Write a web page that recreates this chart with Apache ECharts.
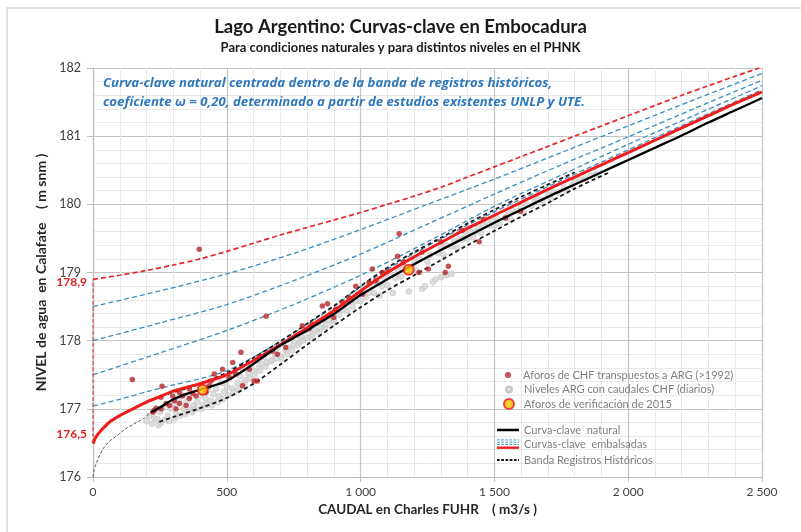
<!DOCTYPE html>
<html><head><meta charset="utf-8">
<script src="https://cdn.jsdelivr.net/npm/echarts@6.0.0/dist/echarts.min.js"></script>
<style>html,body{margin:0;padding:0;background:#fff}#c{width:801px;height:532px}</style>
</head><body><div id="c"></div>
<script>
// ---- data ----
const xTicks = [0, 500, 1000, 1500, 2000, 2500];
const yTicks = [176, 177, 178, 179, 180, 181, 182];
const yMarks = [176.5, 178.9];

const natural = [[217,176.95],[250,177.02],[300,177.14],[350,177.22],[400,177.28],[450,177.34],[500,177.41],[550,177.53],[600,177.66],[650,177.8],[700,177.93],[750,178.04],[800,178.15],[850,178.27],[900,178.39],[950,178.53],[1000,178.67],[1100,178.9],[1200,179.12],[1300,179.33],[1400,179.53],[1500,179.73],[1600,179.92],[1700,180.11],[1800,180.29],[1900,180.47],[2000,180.65],[2100,180.83],[2200,181.01],[2300,181.2],[2400,181.38],[2500,181.56]];
const naturalLow = [[0,176.0],[5,176.12],[13,176.21],[25,176.32],[37,176.41],[60,176.52],[87,176.6],[120,176.7],[149,176.77],[185,176.85],[217,176.95]];
const redSolid = [[0,176.49],[10,176.58],[25,176.66],[60,176.8],[100,176.9],[150,177.0],[200,177.1],[250,177.18],[300,177.26],[400,177.37],[500,177.5],[600,177.71],[700,177.94],[800,178.19],[900,178.44],[1000,178.73],[1100,179.0],[1200,179.23],[1300,179.44],[1400,179.65],[1500,179.84],[1600,180.03],[1700,180.22],[1800,180.4],[1900,180.58],[2000,180.76],[2100,180.94],[2200,181.12],[2300,181.3],[2400,181.48],[2500,181.65]];
const redVert = [[0,176.5],[0,178.9]];
const redDashed = [[0,178.9],[100,178.96],[200,179.03],[300,179.11],[400,179.2],[500,179.31],[600,179.43],[700,179.55],[800,179.66],[900,179.77],[1000,179.88],[1100,180.0],[1200,180.12],[1300,180.25],[1400,180.4],[1500,180.55],[1600,180.7],[1700,180.85],[1800,181.0],[1900,181.15],[2000,181.3],[2100,181.45],[2200,181.6],[2300,181.74],[2400,181.88],[2490,182.0]];
const blue1 = [[0,178.5],[250,178.73],[500,178.98],[750,179.28],[1000,179.63],[1250,180.0],[1500,180.37],[1750,180.76],[2000,181.15],[2250,181.54],[2500,181.92]];
const blue2 = [[0,178.0],[250,178.26],[500,178.53],[750,178.88],[1000,179.27],[1250,179.71],[1500,180.15],[1750,180.58],[2000,180.99],[2250,181.41],[2500,181.82]];
const blue3 = [[0,177.5],[250,177.82],[500,178.15],[750,178.53],[1000,178.96],[1250,179.45],[1500,179.97],[1750,180.43],[2000,180.88],[2250,181.31],[2500,181.74]];
const blue4 = [[0,177.04],[100,177.14],[200,177.25],[300,177.35],[400,177.44],[500,177.56],[600,177.76],[700,177.99],[800,178.24],[900,178.5],[1000,178.79],[1200,179.28],[1500,179.89],[2000,180.8],[2500,181.68]];
const bandLow = [[248,176.81],[300,176.88],[400,177.01],[500,177.16],[600,177.37],[700,177.65],[800,177.94],[900,178.22],[1000,178.49],[1100,178.74],[1200,178.96],[1300,179.18],[1400,179.4],[1500,179.61],[1600,179.82],[1700,180.02],[1800,180.23],[1930,180.47]];
const bandHigh = [[280,177.22],[350,177.3],[400,177.37],[500,177.53],[600,177.75],[700,177.99],[800,178.25],[900,178.51],[1000,178.8],[1100,179.07],[1200,179.3],[1300,179.51],[1400,179.72],[1500,179.92],[1600,180.11],[1700,180.29],[1800,180.47]];
const aforosCHF = [[147,177.43],[224,176.95],[236,177.01],[254,177.0],[229,176.98],[258,177.33],[254,177.17],[273,177.08],[286,177.05],[298,177.19],[304,177.12],[310,177.0],[323,177.08],[323,177.24],[335,177.19],[348,177.05],[360,177.15],[360,177.29],[372,177.23],[385,177.19],[397,179.34],[422,177.24],[434,177.34],[441,177.41],[453,177.51],[484,177.58],[509,177.46],[522,177.68],[534,177.51],[553,177.83],[559,177.34],[584,177.58],[602,177.41],[614,177.41],[621,177.76],[647,178.36],[671,177.85],[689,177.8],[720,177.9],[782,178.22],[807,178.17],[820,178.24],[857,178.51],[876,178.54],[900,178.34],[907,178.46],[932,178.56],[957,178.63],[982,178.8],[1007,178.68],[1032,178.85],[1044,179.05],[1057,178.88],[1081,179.0],[1100,179.02],[1138,179.24],[1144,179.57],[1160,179.15],[1218,179.0],[1230,179.3],[1253,179.05],[1300,179.45],[1316,179.0],[1328,179.09],[1380,179.62],[1443,179.45],[1460,179.78],[1542,179.8],[1598,179.9]];
const nivelesDiarios = [[200,176.82],[210,176.9],[220,176.78],[230,176.86],[240,176.85],[245,176.76],[250,176.95],[260,177.02],[255,176.8],[270,176.84],[280,176.9],[285,176.82],[290,177.0],[300,177.08],[305,176.86],[310,176.93],[320,177.12],[325,176.9],[340,177.0],[345,176.92],[350,177.1],[360,177.18],[365,176.98],[370,176.95],[375,177.05],[385,177.0],[390,177.1],[400,177.2],[405,177.0],[410,177.05],[420,177.15],[425,177.06],[430,177.28],[440,177.12],[445,177.05],[450,177.22],[460,177.3],[465,177.1],[470,177.18],[480,177.38],[485,177.14],[490,177.25],[500,177.33],[505,177.2],[510,177.45],[520,177.3],[525,177.24],[530,177.52],[540,177.38],[545,177.3],[550,177.48],[560,177.58],[565,177.38],[570,177.42],[580,177.52],[585,177.45],[590,177.62],[600,177.55],[605,177.5],[610,177.7],[620,177.6],[625,177.56],[630,177.66],[640,177.76],[645,177.62],[650,177.68],[660,177.84],[665,177.7],[670,177.72],[680,177.8],[685,177.74],[690,177.9],[700,177.78],[705,177.74],[710,177.96],[720,177.86],[725,177.8],[730,177.9],[740,178.02],[745,177.86],[750,177.94],[760,178.08],[765,177.94],[770,177.98],[780,178.05],[785,178.0],[790,178.14],[800,178.04],[810,178.2],[815,178.06],[820,178.1],[830,178.16],[840,178.26],[845,178.12],[850,178.18],[860,178.32],[865,178.2],[870,178.24],[880,178.3],[890,178.4],[895,178.26],[900,178.3],[910,178.46],[920,178.38],[930,178.45],[940,178.55],[950,178.44],[960,178.6],[970,178.5],[980,178.58],[990,178.68],[1000,178.58],[1010,178.74],[1020,178.64],[1030,178.7],[1040,178.8],[1050,178.7],[1060,178.86],[1070,178.66],[1080,178.8],[1090,178.92],[1100,178.82],[1110,178.98],[1120,178.7],[1130,178.92],[1140,179.04],[1150,178.94],[1160,179.1],[1180,178.72],[1190,179.05],[1200,179.15],[1210,179.02],[1220,179.2],[1230,178.76],[1240,178.8],[1250,179.16],[1260,179.26],[1270,178.86],[1280,178.9],[1300,178.93],[1320,178.96],[1340,178.98],[1290,179.28],[1300,179.36],[1310,179.26],[1320,179.4],[1340,179.38],[1350,179.46],[1360,179.36],[1370,179.5],[1380,179.48],[1390,179.56],[1400,179.5],[1410,179.6],[1420,179.52],[1430,179.6],[1440,179.66],[1450,179.58],[1460,179.7],[1480,179.7],[1490,179.76],[1500,179.68],[1510,179.8],[1520,179.72],[1540,179.8],[1550,179.86],[1560,179.78],[1570,179.9],[1590,179.9],[1600,179.96],[1610,179.88],[1620,180.0],[1640,179.98],[1650,180.04],[1660,180.08],[1680,180.06],[1700,180.14],[1710,180.08],[1720,180.18],[1740,180.18],[1760,180.25],[1770,180.2],[1790,180.28],[1800,180.33],[1820,180.36],[1840,180.38],[1860,180.42],[1880,180.44]];
const verificacion = [[410,177.28],[1180,179.04]];

// ---- names / texts ----
const titleText = 'Lago Argentino: Curvas-clave en Embocadura';
const subText = 'Para condiciones naturales y para distintos niveles en el PHNK';
const noteText = 'Curva-clave natural centrada dentro de la banda de registros históricos,\ncoeficiente \u03c9 = 0,20, determinado a partir de estudios existentes UNLP y UTE.';
const nAforos = 'Aforos de CHF transpuestos a ARG (>1992)';
const nNiveles = 'Niveles ARG con caudales CHF (diarios)';
const nVerif = 'Aforos de verificación de 2015';
const nNatural = 'Curva-clave  natural';
const nEmb = 'Curvas-clave  embalsadas';
const nBanda = 'Banda Registros Históricos';

const FONT = 'Lato, "Open Sans", sans-serif';
const BLUE = '#3b8dc2';
const RED = '#ee1c1c';

function svgIcon(body) {
  return 'image://data:image/svg+xml;charset=utf-8,' + encodeURIComponent(
    "<svg xmlns='http://www.w3.org/2000/svg' width='24' height='12'>" + body + "</svg>");
}
const embIcon = svgIcon("<g stroke='" + BLUE + "' stroke-width='1' stroke-dasharray='3,1.5'>" +
  "<line x1='0' y1='1' x2='24' y2='1'/><line x1='0' y1='3.5' x2='24' y2='3.5'/><line x1='0' y1='6' x2='24' y2='6'/></g>" +
  "<line x1='0' y1='9.5' x2='24' y2='9.5' stroke='" + RED + "' stroke-width='2.6'/>");
const natIcon = svgIcon("<line x1='0' y1='6' x2='24' y2='6' stroke='#000' stroke-width='2.6'/>");
const bandIcon = svgIcon("<line x1='0' y1='6' x2='24' y2='6' stroke='#1a1a1a' stroke-width='2' stroke-dasharray='3,1.6'/>");

const legendText = {fontFamily: FONT, fontSize: 11, color: '#7f7f7f', lineHeight: 14};
function lg(name, left, top, w, h, icon) {
  return {data: [icon ? {name: name, icon: icon} : name], left: left, top: top, itemWidth: w, itemHeight: h,
    padding: 0, selectedMode: false, textStyle: legendText, orient: 'vertical'};
}

function dashLine(name, data, color, width, dash, z) {
  return {name: name, type: 'line', data: data, symbol: 'none', smooth: 0.3, z: z, silent: true,
    lineStyle: {color: color, width: width, type: dash}, itemStyle: {color: color}};
}

const chart = echarts.init(document.getElementById('c'), null, {renderer: 'canvas'});
chart.setOption({
  animation: false,
  backgroundColor: '#fff',
  title: [
    {text: titleText, left: 'center', top: 18, padding: [0, 0, 0, 20],
      textStyle: {fontFamily: FONT, fontSize: 18.5, fontWeight: 'bold', color: '#1a1a1a'}},
    {text: subText, left: 'center', top: 41, padding: [0, 0, 0, 20],
      textStyle: {fontFamily: FONT, fontSize: 13, fontWeight: 'bold', color: '#1a1a1a'}}
  ],
  graphic: [
    {type: 'rect', z: -10, shape: {x: 7, y: 8, width: 1000, height: 1000},
      style: {fill: 'none', stroke: '#d6d6d6', lineWidth: 1.5}},
    {type: 'text', x: 103, y: 74, z: 10,
      style: {text: noteText, fill: '#2f78bd', font: 'italic bold 13.2px "Open Sans", sans-serif', lineHeight: 19}}
  ],
  legend: [
    lg(nAforos, 505, 368, 20, 6),
    lg(nNiveles, 505, 382.5, 20, 6),
    lg(nVerif, 503, 397, 20, 10),
    lg(nNatural, 497, 423, 22, 11, natIcon),
    lg(nEmb, 497, 437.5, 22, 11, embIcon),
    lg(nBanda, 497, 453, 22, 11, bandIcon)
  ],
  grid: {left: 93, right: 39, top: 68, bottom: 55},
  xAxis: {
    type: 'value', min: xTicks[0], max: xTicks[xTicks.length - 1], interval: 500,
    name: 'CAUDAL en Charles FUHR    ( m3/s )', nameLocation: 'middle', nameGap: 24,
    nameTextStyle: {fontFamily: FONT, fontSize: 13.5, fontWeight: 'bold', color: '#262626'},
    axisLine: {show: true, lineStyle: {color: '#bfbfbf', width: 1.2}},
    axisTick: {show: true, length: 5, lineStyle: {color: '#bfbfbf'}},
    minorTick: {show: false, splitNumber: 5},
    axisLabel: {fontFamily: FONT, fontSize: 12, color: '#404040', margin: 9,
      formatter: v => String(v).replace(/(\d)(\d{3})$/, '$1 $2')},
    splitLine: {show: true, lineStyle: {color: '#c4c4c4', width: 1.2}},
    minorSplitLine: {show: true, lineStyle: {color: '#e9e9e9', width: 1}}
  },
  yAxis: [{
    type: 'value', min: yTicks[0], max: yTicks[yTicks.length - 1], interval: 1,
    name: 'NIVEL de agua  en Calafate    ( m snm )', nameLocation: 'middle', nameGap: 42,
    nameTextStyle: {fontFamily: FONT, fontSize: 14, fontWeight: 'bold', color: '#262626'},
    axisLine: {show: true, lineStyle: {color: '#bfbfbf', width: 1.2}},
    axisTick: {show: true, length: 6, lineStyle: {color: '#bfbfbf'}},
    minorTick: {show: false, splitNumber: 5},
    axisLabel: {fontFamily: FONT, fontSize: 12.5, color: '#404040', margin: 12},
    splitLine: {show: true, lineStyle: {color: '#c4c4c4', width: 1.2}},
    minorSplitLine: {show: true, lineStyle: {color: '#e9e9e9', width: 1}}
  }, {
    type: 'value', min: yTicks[0], max: yTicks[yTicks.length - 1], position: 'left', offset: 0,
    axisLine: {show: false}, axisTick: {show: false}, splitLine: {show: false},
    axisLabel: {show: true, customValues: yMarks, margin: 6,
      formatter: v => v < 177 ? '{a|' + String(v).replace('.', ',') + '}' : '{b|' + String(v).replace('.', ',') + '}',
      rich: {
        a: {fontFamily: FONT, fontSize: 12, fontWeight: 'bold', color: '#e02020', padding: [0, 0, 18, 0]},
        b: {fontFamily: FONT, fontSize: 12, fontWeight: 'bold', color: '#e02020', padding: [6, 0, 0, 0]}
      }}
  }],
  series: [
    {name: nNiveles, type: 'scatter', data: nivelesDiarios, symbol: 'circle', symbolSize: 6, z: 1, silent: true,
      itemStyle: {color: '#d4d4d4', borderColor: '#bcbcbc', borderWidth: 0.5}},
    dashLine('emb1', blue1, BLUE, 1.3, [5, 3], 2),
    dashLine('emb2', blue2, BLUE, 1.3, [5, 3], 2),
    dashLine('emb3', blue3, BLUE, 1.3, [5, 3], 2),
    dashLine('emb4', blue4, BLUE, 1.3, [5, 3], 2),
    dashLine('embTopV', redVert, '#e8262a', 1, [4, 2], 2),
    dashLine('embTop', redDashed, '#e8262a', 1.7, [5, 3], 2),
    dashLine('natLow', naturalLow, '#555555', 1, [3, 2], 3),
    dashLine(nBanda, bandLow, '#1a1a1a', 1.8, [4, 3], 3),
    dashLine(nBanda, bandHigh, '#1a1a1a', 1.8, [4, 3], 3),
    {name: nAforos, type: 'scatter', data: aforosCHF, symbol: 'circle', symbolSize: 5.5, z: 4, silent: true,
      itemStyle: {color: '#b8262b'}},
    dashLine(nEmb, redSolid, RED, 3, 'solid', 5),
    dashLine(nNatural, natural, '#000000', 2.3, 'solid', 6),
    {name: nVerif, type: 'scatter', data: verificacion, symbol: 'circle', symbolSize: 10, z: 7, silent: true,
      itemStyle: {color: '#ffc000', borderColor: '#e8141c', borderWidth: 2}}
  ]
});
</script></body></html>
